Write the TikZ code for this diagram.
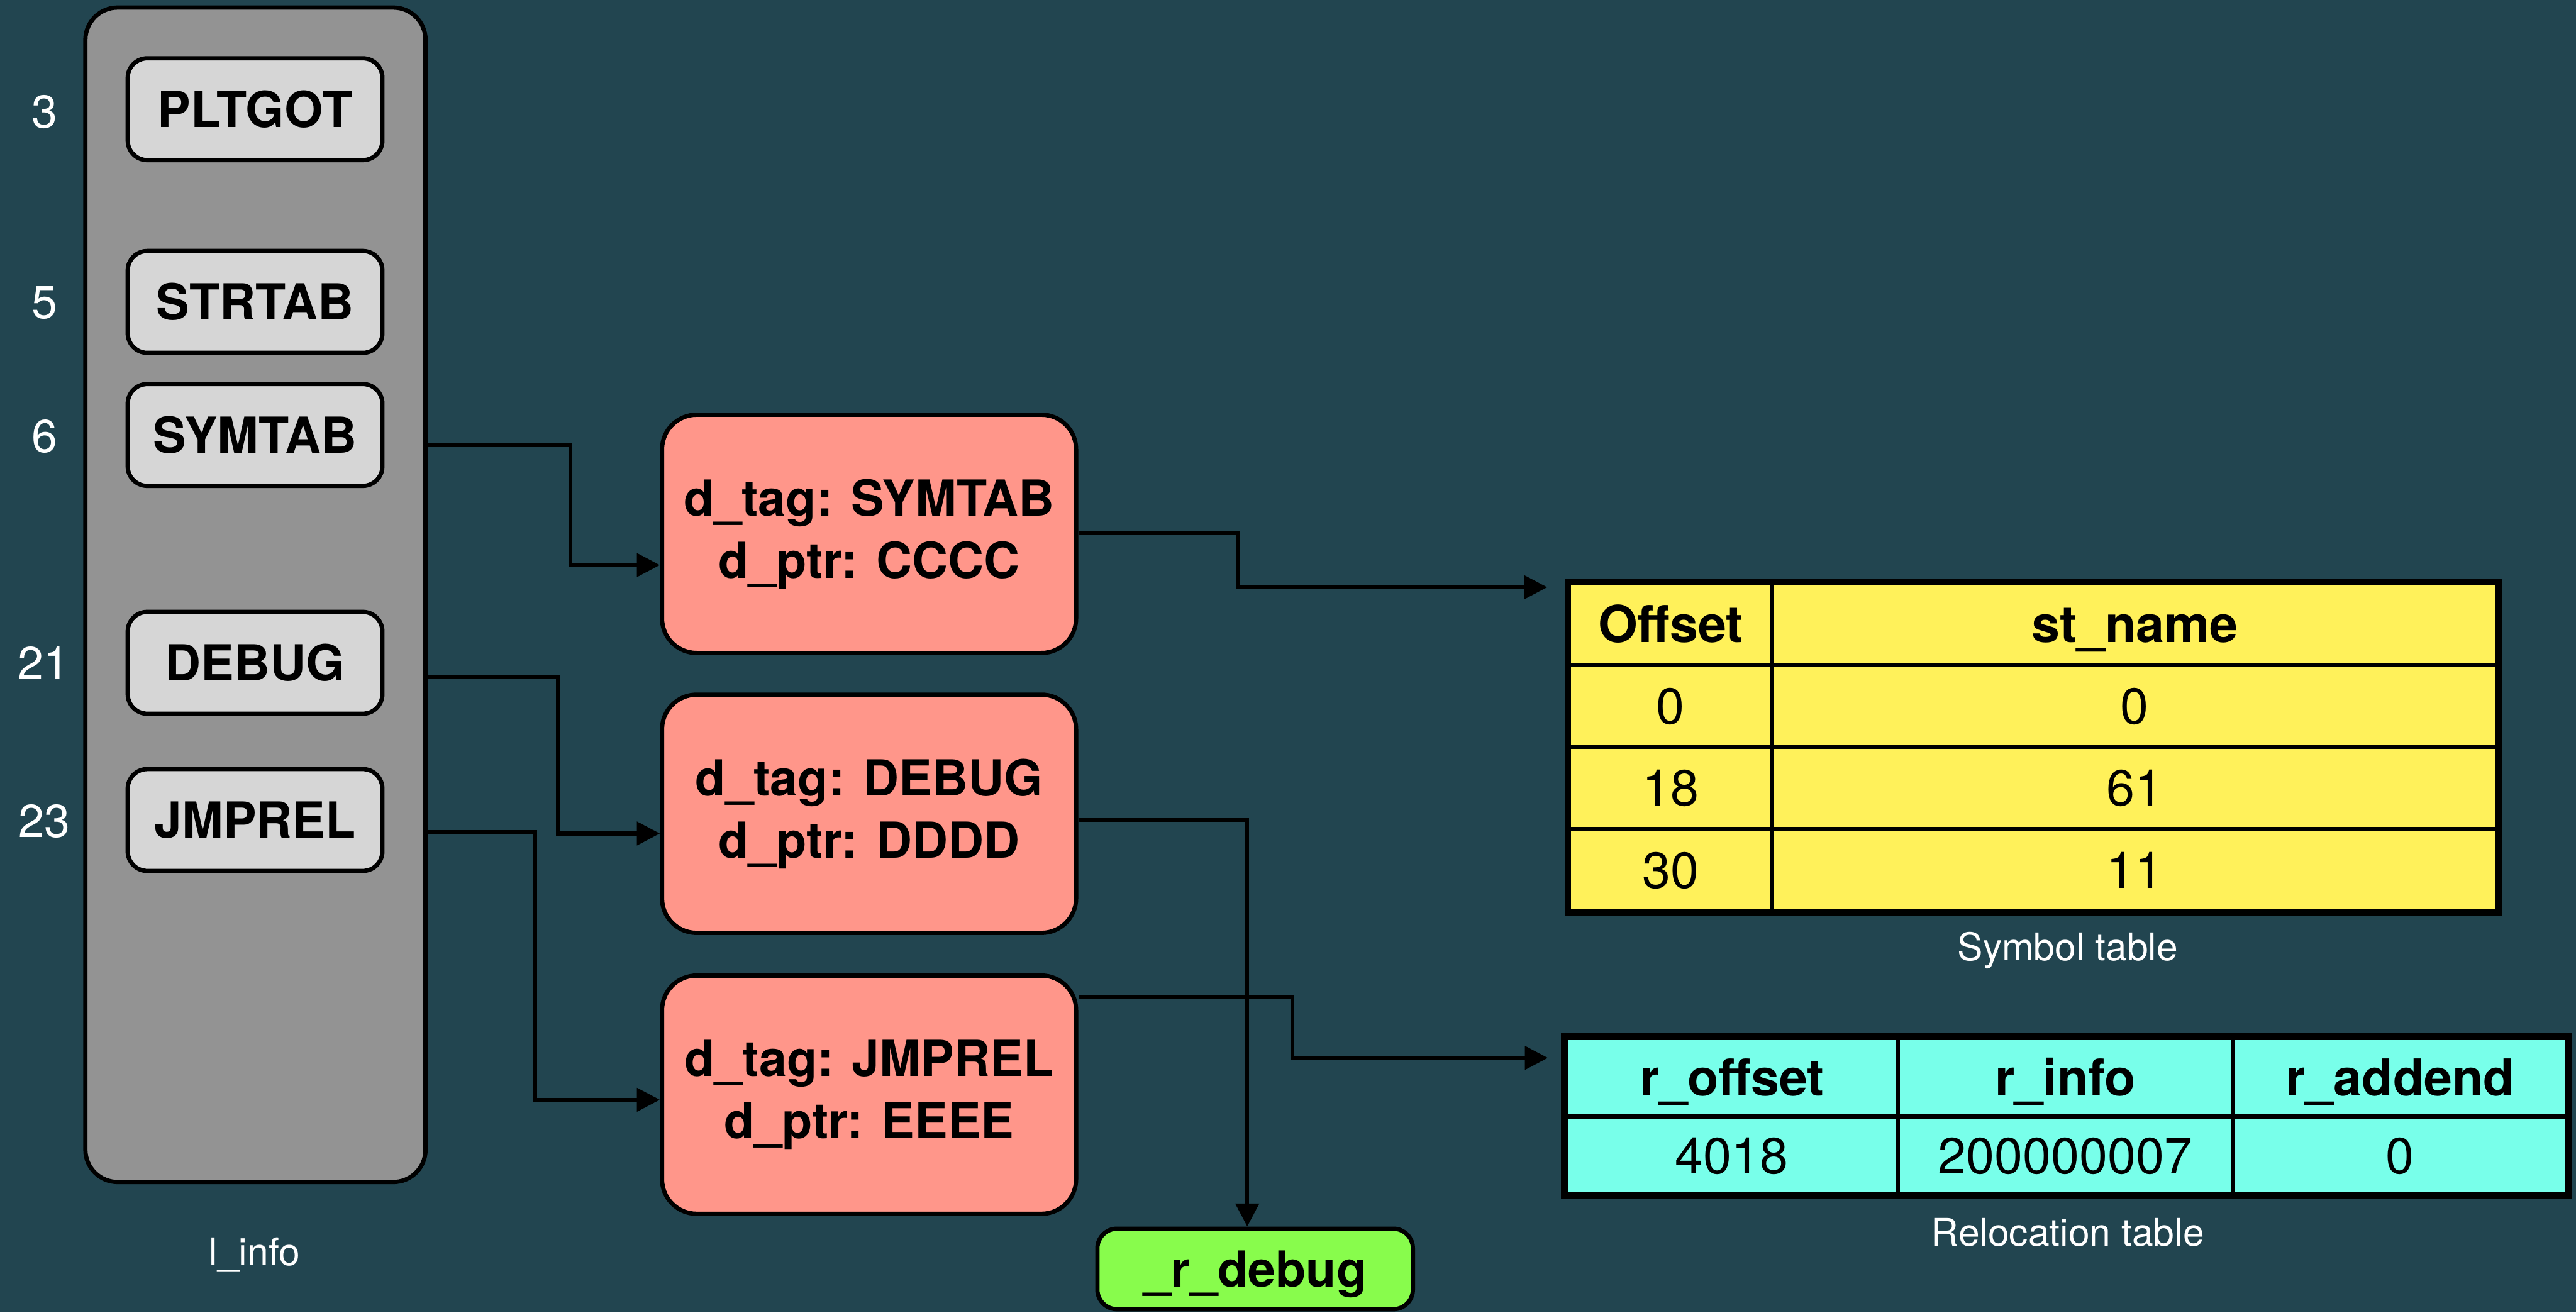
\documentclass[tikz,border=0pt]{standalone}
\usepackage{fontspec}
\setmainfont{TeX Gyre Heros}
\usetikzlibrary{arrows.meta,calc}
\definecolor{bg}{HTML}{224550}
\definecolor{greybox}{HTML}{939393}
\definecolor{lightbox}{HTML}{D6D6D6}
\definecolor{salmon}{HTML}{FF968A}
\definecolor{limeg}{HTML}{88FC4C}
\definecolor{yel}{HTML}{FFF15A}
\definecolor{cyn}{HTML}{78FFEA}
\tikzset{
  outer/.style={draw=black, line width=1.85pt, fill=greybox, rounded corners=14pt, minimum width=5.175cm, minimum height=17.87cm, inner sep=0pt},
  tagbox/.style={draw=black, line width=1.85pt, fill=lightbox, rounded corners=8.5pt, minimum width=3.875cm, minimum height=1.55cm, inner sep=0pt, font=\fontsize{21.5}{25}\selectfont\bfseries},
  dynbox/.style={draw=black, line width=1.85pt, fill=salmon, rounded corners=15pt, minimum width=6.3cm, minimum height=3.625cm, inner sep=0pt, align=center, font=\fontsize{21.5}{27}\selectfont\bfseries},
  dbgbox/.style={draw=black, line width=1.85pt, fill=limeg, rounded corners=8.5pt, minimum width=4.8cm, minimum height=1.225cm, inner sep=0pt, text height=15.5pt, text depth=0pt, font=\fontsize{21.5}{25}\selectfont\bfseries},
  ycell/.style={draw=black, line width=1.8pt, fill=yel, inner sep=0pt, minimum height=1.25cm, text height=15.8pt, text depth=0pt, font=\fontsize{22}{25}\selectfont},
  ccell/.style={draw=black, line width=1.8pt, fill=cyn, inner sep=0pt, text height=15.8pt, text depth=0pt, font=\fontsize{22}{25}\selectfont},
  num/.style={text=white, font=\fontsize{20}{24}\selectfont, inner sep=0pt},
  caplabel/.style={text=white, font=\fontsize{16.5}{20}\selectfont, inner sep=0pt},
  conn/.style={draw=black, line width=1.7pt, -{Triangle[length=10pt,width=10pt]}}
}
\begin{document}
\begin{tikzpicture}[x=0.025cm,y=-0.025cm]
\fill[bg] (0,0) rectangle (1568,799);
\useasboundingbox (0,0) rectangle (1568,799);

% l_info column
\node[outer] (linfo) at (155.5,362.1) {};
\node[tagbox] (pltgot) at (155.25,66.5) {PLTGOT};
\node[tagbox] (strtab) at (155.25,183.8) {STRTAB};
\node[tagbox] (symtab) at (155.25,264.8) {SYMTAB};
\node[tagbox] (debug) at (155.25,403.5) {DEBUG};
\node[tagbox] (jmprel) at (155.25,499.2) {JMPREL};
\node[num] (n3) at (27,68) {3};
\node[num] (n5) at (27,184.5) {5};
\node[num] (n6) at (27,265.7) {6};
\node[num] (n21) at (26.5,403.8) {21};
\node[num] (n23) at (27,500) {23};
\node[caplabel] (linfolabel) at (155,763.8) {l\_info};

% dynamic entries
\node[dynbox] (d1) at (529,325) {d\_tag: SYMTAB\\d\_ptr: CCCC};
\node[dynbox] (d2) at (529,495.4) {d\_tag: DEBUG\\d\_ptr: DDDD};
\node[dynbox] (d3) at (529,666.4) {d\_tag: JMPREL\\d\_ptr: EEEE};
\node[dbgbox] (rdebug) at (764,772.5) {\_r\_debug};

% symbol table
\node[ycell, minimum width=3.09cm] (s00) at (1016.9,379.9) {\bfseries Offset};
\node[ycell, minimum width=11.03cm] (s01) at (1299.4,379.9) {\bfseries st\_name};
\node[ycell, minimum width=3.09cm] (s10) at (1016.9,429.8) {0};
\node[ycell, minimum width=11.03cm] (s11) at (1299.4,429.8) {0};
\node[ycell, minimum width=3.09cm] (s20) at (1016.9,479.6) {18};
\node[ycell, minimum width=11.03cm] (s21) at (1299.4,479.6) {61};
\node[ycell, minimum width=3.09cm] (s30) at (1016.9,529.5) {30};
\node[ycell, minimum width=11.03cm] (s31) at (1299.4,529.5) {11};
\draw[line width=2.2pt] (s00.north west) rectangle (s31.south east);
\node[caplabel] (symlabel) at (1258.6,578.8) {Symbol table};

% relocation table
\node[ccell, minimum width=5.06cm, minimum height=1.2cm] (r00) at (1054.2,655.8) {\bfseries r\_offset};
\node[ccell, minimum width=5.09cm, minimum height=1.2cm] (r01) at (1257.2,655.8) {\bfseries r\_info};
\node[ccell, minimum width=5.09cm, minimum height=1.2cm] (r02) at (1460.9,655.8) {\bfseries r\_addend};
\node[ccell, minimum width=5.06cm, minimum height=1.18cm] (r10) at (1054.2,703.3) {4018};
\node[ccell, minimum width=5.09cm, minimum height=1.18cm] (r11) at (1257.2,703.3) {200000007};
\node[ccell, minimum width=5.09cm, minimum height=1.18cm] (r12) at (1460.9,703.3) {0};
\draw[line width=2.2pt] (r00.north west) rectangle (r12.south east);
\node[caplabel] (rellabel) at (1258.6,750.2) {Relocation table};

% connectors
\coordinate (symin) at ($(s00.north west |- 0,357.5)+(-12,0)$);
\coordinate (relin) at ($(r00.north west |- 0,644)+(-9.5,0)$);
\draw[conn] (linfo.east |- 0,270.8) -| (347.3,344) -- (d1.west |- 0,344);
\draw[conn] (linfo.east |- 0,412) -| (339.7,507.4) -- (d2.west |- 0,507.4);
\draw[conn] (linfo.east |- 0,506.5) -| (325.6,669.5) -- (d3.west |- 0,669.5);
\draw[conn] (d1.east |- 0,324.6) -| (753.5,357.5) -- (symin);
\draw[conn] (d3.east |- 0,606.8) -| (786.8,644) -- (relin);
\draw[conn] (d2.east |- 0,499.3) -| (rdebug.north -| 759.2,0);
\end{tikzpicture}
\end{document}
